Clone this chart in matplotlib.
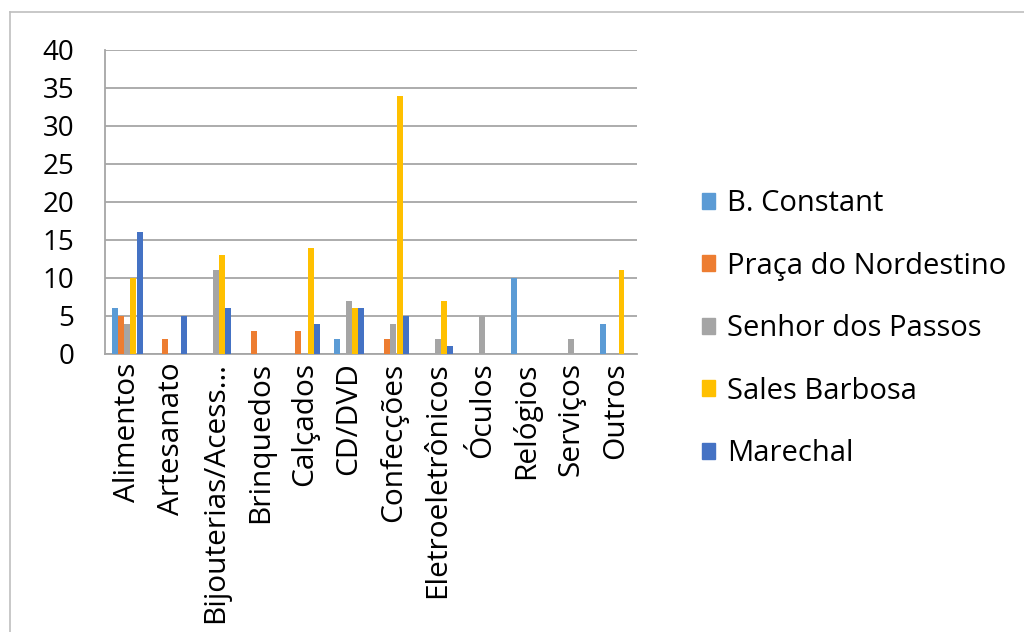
import numpy as np
import matplotlib.pyplot as plt
from matplotlib.lines import Line2D
from matplotlib.patches import Patch

plt.rcParams['font.family'] = ['Open Sans', 'DejaVu Sans']

# categories and series
categories = ["Alimentos", "Artesanato", "Bijouterias/Acess…", "Brinquedos", "Calçados",
              "CD/DVD", "Confecções", "Eletroeletrônicos", "Óculos", "Relógios",
              "Serviços", "Outros"]
series_names = ["B. Constant", "Praça do Nordestino", "Senhor dos Passos",
                "Sales Barbosa", "Marechal"]
b_constant = [6, 0, 0, 0, 0, 2, 0, 0, 0, 10, 0, 4]
praca_nordestino = [5, 2, 0, 3, 3, 0, 2, 0, 0, 0, 0, 0]
senhor_passos = [4, 0, 11, 0, 0, 7, 4, 2, 5, 0, 2, 0]
sales_barbosa = [10, 0, 13, 0, 14, 6, 34, 7, 0, 0, 0, 11]
marechal = [16, 5, 6, 0, 4, 6, 5, 1, 0, 0, 0, 0]
colors = ["#5B9BD5", "#ED7D31", "#A5A5A5", "#FFC000", "#4472C4"]

all_series = [b_constant, praca_nordestino, senhor_passos, sales_barbosa, marechal]

fig = plt.figure(figsize=(10.24, 6.32), dpi=100)
ax = fig.add_axes([0.1025, 0.44, 0.52, 0.481])

x = np.arange(len(categories))
w = 0.14
for i, (vals, c) in enumerate(zip(all_series, colors)):
    ax.bar(x + (i - 2) * w, vals, width=w * 0.95, color=c, zorder=3)

ax.set_xlim(-0.5, len(categories) - 0.5)
ax.set_ylim(0, 40)
ax.set_yticks(range(0, 41, 5))
ax.yaxis.grid(True, color="#A6A6A6", linewidth=1.3, zorder=0)
ax.set_xticks(x)
ax.set_xticklabels(categories, rotation=90, fontsize=21.5)
ax.tick_params(axis='y', labelsize=20, length=0, pad=22)
ax.tick_params(axis='x', length=0, pad=6)
for s in ["top", "right"]:
    ax.spines[s].set_visible(False)
ax.spines["left"].set_color("#A6A6A6")
ax.spines["bottom"].set_color("#A6A6A6")
ax.spines["left"].set_linewidth(1.3)
ax.spines["bottom"].set_linewidth(1.3)

handles = [Patch(color=c) for c in colors]
fig.legend(handles, series_names, loc="center left", bbox_to_anchor=(0.66, 0.48),
           frameon=False, fontsize=21, handlelength=0.45, handleheight=0.45,
           handletextpad=0.4, labelspacing=1.15)

# outer chart frame
fig.add_artist(Line2D([0.01, 1.0], [0.981, 0.981], color="#BFBFBF", linewidth=1.2))
fig.add_artist(Line2D([0.01, 0.01], [0.0, 0.981], color="#BFBFBF", linewidth=1.2))

fig.savefig("out.png", dpi=100)
